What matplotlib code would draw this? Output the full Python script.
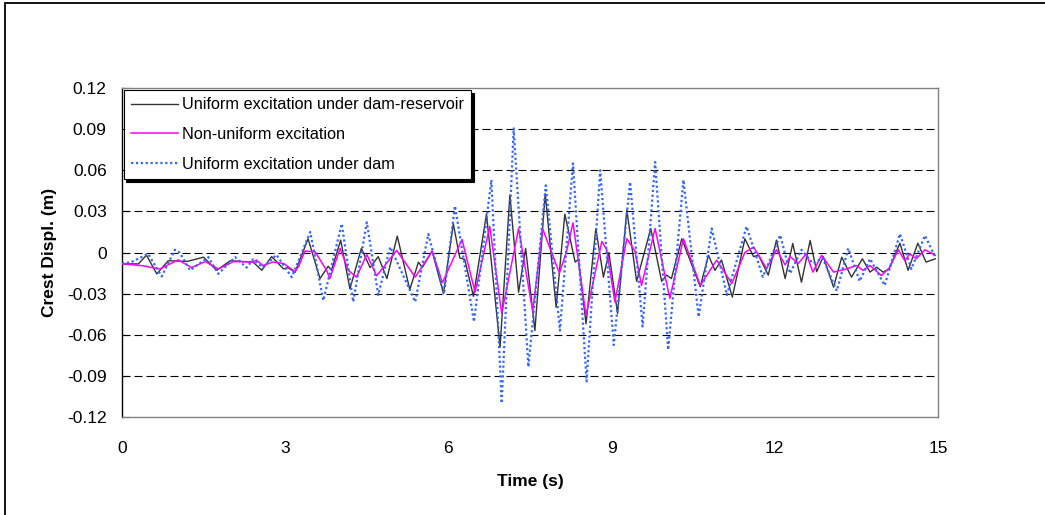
import matplotlib
matplotlib.use("Agg")
import matplotlib.pyplot as plt
from matplotlib.patches import Rectangle

# ---- data ----
t_dam_res = [0.00, 0.30, 0.45, 0.64, 0.85, 1.20, 1.50, 1.74, 1.99, 2.41, 2.57, 2.75, 2.97, 3.05, 3.18,
             3.42, 3.64, 3.79, 3.85, 4.02, 4.19, 4.40, 4.56, 4.71, 4.87, 5.06, 5.29, 5.45, 5.52, 5.70,
             5.91, 6.09, 6.21, 6.30, 6.46, 6.70, 6.95, 7.13, 7.29, 7.42, 7.59, 7.78, 7.98, 8.14, 8.33,
             8.39, 8.53, 8.71, 8.85, 8.95, 9.11, 9.28, 9.46, 9.72, 9.92, 10.01, 10.10, 10.29, 10.63,
             10.78, 10.90, 11.02, 11.22, 11.45, 11.61, 11.70, 11.88, 12.03, 12.19, 12.33, 12.49, 12.65,
             12.77, 12.89, 13.08, 13.23, 13.41, 13.61, 13.75, 13.87, 13.99, 14.10, 14.30, 14.45, 14.63,
             14.78, 14.95]
v_dam_res = [-0.0083, -0.0083, -0.002, -0.0156, -0.006, -0.0065, -0.0034, -0.013, -0.006, -0.007, -0.013,
             -0.003, -0.012, -0.011, -0.0145, 0.010, -0.019, -0.010, -0.013, 0.009, -0.0265, 0.003, -0.011,
             -0.003, -0.019, 0.012, -0.027, -0.007, -0.011, 0.001, -0.030, 0.021, -0.004, -0.005, -0.032,
             0.028, -0.069, 0.042, -0.029, 0.003, -0.057, 0.043, -0.040, 0.028, -0.007, -0.005, -0.052,
             0.0175, -0.018, 0.000, -0.0445, 0.031, -0.021, 0.0175, -0.021, -0.0165, -0.019, 0.010, -0.025,
             -0.002, -0.013, -0.0055, -0.0325, 0.010, -0.003, -0.002, -0.0165, 0.009, -0.019, 0.0066,
             -0.0217, 0.0088, -0.014, -0.003, -0.0253, -0.0034, -0.018, -0.0046, -0.0143, -0.0107, -0.0143,
             -0.012, 0.0068, -0.013, 0.0068, -0.007, -0.0046]

t_nonuni = [0.00, 0.35, 0.70, 1.03, 1.28, 1.53, 1.77, 2.05, 2.41, 2.47, 2.59, 2.77, 2.97, 3.18, 3.25, 3.36,
            3.55, 3.76, 3.82, 4.01, 4.16, 4.31, 4.50, 4.68, 5.05, 5.39, 5.70, 5.89, 6.25, 6.49, 6.76, 6.98,
            7.29, 7.55, 7.73, 8.04, 8.17, 8.29, 8.53, 8.82, 8.91, 9.06, 9.28, 9.43, 9.55, 9.80, 10.07,
            10.32, 10.63, 10.93, 11.21, 11.45, 11.61, 11.85, 12.03, 12.19, 12.28, 12.43, 12.58, 12.70,
            12.86, 13.08, 13.32, 13.50, 13.62, 13.75, 13.96, 14.11, 14.27, 14.39, 14.48, 14.60, 14.76, 14.95]
v_nonuni = [-0.0083, -0.0095, -0.012, -0.0054, -0.011, -0.0066, -0.012, -0.0066, -0.007, -0.0055, -0.0095,
            -0.007, -0.008, -0.014, -0.010, 0.001, 0.0005, -0.013, -0.019, 0.003, -0.013, -0.018, -0.0015,
            -0.017, 0.0015, -0.018, 0.001, -0.022, 0.0095, -0.029, 0.019, -0.0445, 0.0175, -0.043, 0.0175,
            -0.015, 0.0005, 0.0216, -0.046, 0.008, 0.002, -0.036, 0.010, 0.001, -0.024, 0.0175, -0.0335,
            0.010, -0.024, -0.0056, -0.0226, 0.000, 0.004, -0.0117, 0.002, -0.009, -0.003, -0.008, -0.001,
            -0.0143, -0.002, -0.0143, -0.012, -0.0095, -0.013, -0.0095, -0.0168, -0.011, 0.002, -0.006,
            -0.001, -0.0046, 0.002, -0.002]

t_dam = [0.00, 0.17, 0.48, 0.73, 0.97, 1.06, 1.25, 1.59, 1.77, 2.08, 2.29, 2.41, 2.59, 2.84, 3.12, 3.46,
         3.70, 4.04, 4.25, 4.50, 4.71, 4.93, 5.39, 5.63, 5.92, 6.12, 6.47, 6.79, 6.98, 7.20, 7.47, 7.79,
         8.05, 8.29, 8.54, 8.79, 9.04, 9.34, 9.57, 9.80, 10.04, 10.32, 10.60, 10.84, 11.12, 11.48, 11.78,
         12.10, 12.28, 12.49, 12.70, 12.88, 13.14, 13.35, 13.56, 13.75, 14.02, 14.30, 14.51, 14.76, 14.95]
v_dam = [-0.008, -0.007, -0.001, -0.0175, 0.002, 0.000, -0.013, -0.0034, -0.0156, -0.0034, -0.011, -0.005,
         -0.011, -0.0017, -0.018, 0.015, -0.035, 0.021, -0.036, 0.022, -0.031, 0.004, -0.036, 0.0135, -0.030,
         0.034, -0.0505, 0.053, -0.110, 0.0905, -0.0835, 0.049, -0.057, 0.065, -0.094, 0.060, -0.0675, 0.0515,
         -0.054, 0.066, -0.071, 0.053, -0.047, 0.0175, -0.031, 0.019, -0.0178, 0.0127, -0.0153, 0.002,
         -0.008, -0.004, -0.028, 0.003, -0.021, -0.0046, -0.024, 0.0136, -0.012, 0.0124, -0.0034]

labels = ["Uniform excitation under dam-reservoir", "Non-uniform excitation", "Uniform excitation under dam"]
x_ticks = [0, 3, 6, 9, 12, 15]
y_ticks = [-0.12, -0.09, -0.06, -0.03, 0, 0.03, 0.06, 0.09, 0.12]
y_ticklabels = ["-0.12", "-0.09", "-0.06", "-0.03", "0", "0.03", "0.06", "0.09", "0.12"]

plt.rcParams['font.family'] = ['Liberation Sans', 'DejaVu Sans']

W, H = 1045, 515
fig = plt.figure(figsize=(W / 100, H / 100), dpi=100)
ax = fig.add_axes([122 / W, 1 - 417 / H, (938 - 122) / W, (417 - 88) / H])

# outer chart frame
fig.patches.append(Rectangle((5 / W, -0.05), 1.2, (1 - 3 / H) + 0.05, transform=fig.transFigure,
                             fill=False, edgecolor='black', linewidth=1.3))

# grid lines
for yv in y_ticks[1:-1]:
    ax.axhline(yv, color='black', linewidth=0.8, dashes=(7.2, 3.6), zorder=1)

ax.plot(t_dam_res, v_dam_res, color='#333333', linewidth=1.0, label=labels[0], zorder=3)
ax.plot(t_nonuni, v_nonuni, color='#FF00FF', linewidth=1.1, label=labels[1], zorder=4)
ax.plot(t_dam, v_dam, color='#3366FF', linewidth=1.6, linestyle=(0, (1, 1.2)), label=labels[2], zorder=5)

ax.set_xlim(0, 15)
ax.set_ylim(-0.12, 0.12)
ax.set_xticks(x_ticks)
ax.set_xticklabels([str(v) for v in x_ticks])
ax.set_yticks(y_ticks)
ax.set_yticklabels(y_ticklabels)
ax.tick_params(axis='y', direction='in', length=5, width=0.8, pad=11, labelsize=12.5)
ax.tick_params(axis='x', length=0, pad=17, labelsize=12.5)

for side in ['top', 'bottom', 'right']:
    ax.spines[side].set_color('#808080')
    ax.spines[side].set_linewidth(1.0)
ax.spines['left'].set_color('black')
ax.spines['left'].set_linewidth(1.0)

ax.set_xlabel("Time (s)", fontsize=12.5, fontweight='bold', labelpad=13)
ax.set_ylabel("Crest Displ. (m)", fontsize=12.5, fontweight='bold', labelpad=7)

leg = ax.legend(loc='upper left', bbox_to_anchor=(0.002, 0.994), borderaxespad=0, fontsize=11.7,
                frameon=True, fancybox=False, shadow={'color': 'black', 'alpha': 1},
                handlelength=2.9, handletextpad=0.25, borderpad=0.45, labelspacing=0.9,
                edgecolor='black')
leg.get_frame().set_linewidth(0.8)

fig.savefig("out.png", dpi=100)
